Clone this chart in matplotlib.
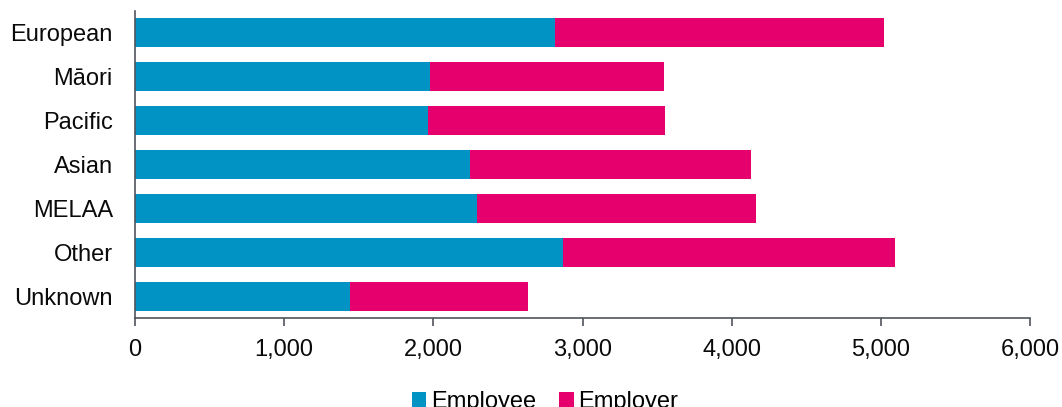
import numpy as np
import matplotlib
matplotlib.use("Agg")
import matplotlib.pyplot as plt
from matplotlib.ticker import FuncFormatter

plt.rcParams['font.family'] = ['Liberation Sans', 'DejaVu Sans']

# Ethnic groups and the two contribution sources
groups = ["European", "Māori", "Pacific", "Asian", "MELAA", "Other", "Unknown"]
employee = [2815, 1981, 1964, 2245, 2296, 2867, 1441]
employer = [2205, 1565, 1592, 1884, 1870, 2227, 1193]

blue = "#0093C4"
pink = "#E5006E"
axis_grey = "#50555c"

fig = plt.figure(figsize=(10.62, 4.07), dpi=100)
ax = fig.add_axes([0.1271, 0.2187, 0.8428, 0.7543])

y = np.arange(len(groups))
ax.barh(y, employee, height=0.66, color=blue, label="Employee")
ax.barh(y, employer, left=employee, height=0.66, color=pink, label="Employer")

ax.set_ylim(len(groups) - 0.5, -0.5)
ax.set_xlim(0, 6000)
ax.set_xticks(range(0, 6001, 1000))
ax.xaxis.set_major_formatter(FuncFormatter(lambda v, p: f"{int(v):,}"))
ax.set_yticks(y)
ax.set_yticklabels(groups)

for s in ["top", "right"]:
    ax.spines[s].set_visible(False)
for s in ["left", "bottom"]:
    ax.spines[s].set_color(axis_grey)
    ax.spines[s].set_linewidth(1.2)

ax.tick_params(axis="x", direction="out", length=6, width=1.2, color=axis_grey,
               labelsize=17, pad=9, labelcolor="#0a0a0a")
ax.tick_params(axis="y", length=0, labelsize=17, pad=16, labelcolor="#0a0a0a")

fig.legend(loc="center", bbox_to_anchor=(545 / 1062, 1 - 402 / 407), ncol=2,
           frameon=False, fontsize=17, handlelength=0.6, handleheight=0.6,
           handletextpad=0.18, columnspacing=1.0, borderpad=0)

fig.savefig("out.png", dpi=100)
